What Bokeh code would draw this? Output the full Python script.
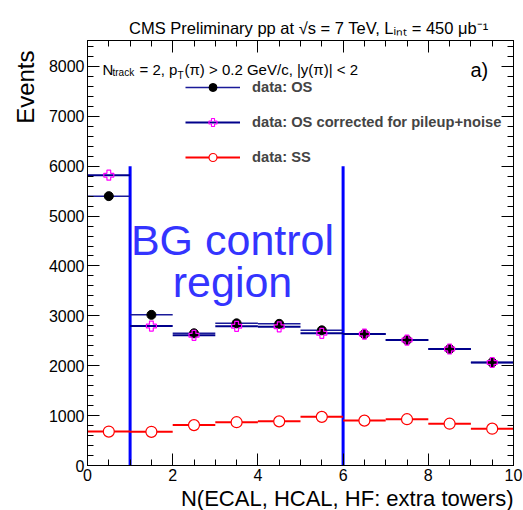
import numpy as np
from bokeh.plotting import figure
from bokeh.models import (Range1d, LinearAxis, SingleIntervalTicker, Label, Legend, LegendItem,
                          ColumnDataSource, Title)
from bokeh.embed import file_html
from bokeh.resources import INLINE

# ---- data ----
bin_lo = [0, 1, 2, 3, 4, 5, 6, 7, 8, 9]
bin_hi = [1, 2, 3, 4, 5, 6, 7, 8, 9, 10]
bin_center = [0.5, 1.5, 2.5, 3.5, 4.5, 5.5, 6.5, 7.5, 8.5, 9.5]
os_counts = [5400, 3020, 2650, 2850, 2840, 2710, 2635, 2515, 2335, 2065]
os_corr_counts = [5820, 2795, 2610, 2790, 2780, 2650, 2635, 2515, 2335, 2065]
ss_counts = [680, 675, 810, 868, 885, 975, 900, 928, 838, 738]
bg_region_edges = [1, 6]
bg_line_top = 6000

FONT = "Liberation Sans"
W, H = 523, 510
FL, FR, FT, FB = 87, 513, 40, 466
XMAX, YMAX = 10.0, 8520.0

p = figure(width=W, height=H, output_backend="svg", toolbar_location=None,
           x_range=Range1d(0, XMAX), y_range=Range1d(0, YMAX),
           min_border_left=FL, min_border_right=W - FR, min_border_top=FT,
           min_border_bottom=H - FB, x_axis_location=None, y_axis_location=None)
p.grid.visible = False
p.outline_line_color = "black"
p.outline_line_width = 1
p.background_fill_color = "white"
p.border_fill_color = "white"

def px2x(px):
    return (px - FL) / (FR - FL) * XMAX

def py2y(py):
    return (FB - py) / (FB - FT) * YMAX

def mk_axis(kind, side, labels):
    if kind == "x":
        ax = LinearAxis(ticker=SingleIntervalTicker(interval=2, num_minor_ticks=4))
    else:
        ax = LinearAxis(ticker=SingleIntervalTicker(interval=1000, num_minor_ticks=5))
    ax.major_tick_in = 12
    ax.major_tick_out = 0
    ax.minor_tick_in = 6
    ax.minor_tick_out = 0
    ax.axis_line_color = "black"
    ax.major_tick_line_color = "black"
    ax.minor_tick_line_color = "black"
    ax.major_label_text_font = FONT
    ax.major_label_text_font_size = "16px"
    ax.major_label_text_color = "black"
    ax.major_label_standoff = 3
    if not labels:
        ax.major_label_text_alpha = 0
        ax.major_label_text_font_size = "1px"
        ax.major_label_standoff = 0
    p.add_layout(ax, side)
    return ax

top_title = Title(text="CMS Preliminary pp at \u221as = 7 TeV, L\u1d62\u2099\u209c = 450 \u03bcb\u207b\u00b9",
                  align="right", offset=25, standoff=8, text_font=FONT, text_font_size="16.5px",
                  text_font_style="normal", text_color="black")
x_title = Title(text="N(ECAL, HCAL, HF: extra towers)", align="right", offset=0, standoff=0,
                text_font=FONT, text_font_size="22px", text_font_style="normal", text_color="black")
y_title = Title(text="Events", align="right", offset=10, standoff=14,
                text_font=FONT, text_font_size="24px", text_font_style="normal", text_color="black")

mk_axis("x", "below", True)
mk_axis("x", "above", False)
mk_axis("y", "left", True)
mk_axis("y", "right", False)
p.add_layout(top_title, "above")
p.add_layout(x_title, "below")
p.add_layout(y_title, "left")

# ---- BG region lines ----
p.segment(x0=bg_region_edges, y0=[0, 0], x1=bg_region_edges, y1=[bg_line_top] * 2,
          line_color="#0000ff", line_width=3)

# ---- histograms ----
src = ColumnDataSource(dict(lo=bin_lo, hi=bin_hi, c=bin_center, os=os_counts,
                            osc=os_corr_counts, ss=ss_counts))
r_os_l = p.segment(x0="lo", y0="os", x1="hi", y1="os", source=src, line_color="#1a1a99", line_width=1.5)
r_osc_l = p.segment(x0="lo", y0="osc", x1="hi", y1="osc", source=src, line_color="#00008b", line_width=2)
r_ss_l = p.segment(x0="lo", y0="ss", x1="hi", y1="ss", source=src, line_color="#ff0000", line_width=2)
r_os_m = p.scatter(x="c", y="os", source=src, marker="circle", size=9, fill_color="black", line_color="black")
r_osc_m = p.scatter(x="c", y="osc", source=src, marker="plus", size=10, fill_color="white",
                    fill_alpha=0, line_color="#ff00ff", line_width=1.2)
r_ss_m = p.scatter(x="c", y="ss", source=src, marker="circle", size=11, fill_color="white",
                   line_color="#ff0000", line_width=1.2)

legend = Legend(items=[
    LegendItem(label="data: OS", renderers=[r_os_l, r_os_m]),
    LegendItem(label="data: OS corrected for pileup+noise", renderers=[r_osc_l, r_osc_m]),
    LegendItem(label="data: SS", renderers=[r_ss_l, r_ss_m]),
], location=(98, 298), glyph_width=55, glyph_height=20, label_standoff=12, spacing=15,
   padding=0, margin=0, border_line_alpha=0, background_fill_alpha=0,
   label_text_font=FONT, label_text_font_style="bold", label_text_font_size="14.7px",
   label_height=20)
p.add_layout(legend)

def lab(text, px, py, size, color="black", align="left", baseline="alphabetic", angle=0, style="normal"):
    p.add_layout(Label(x=px2x(px), y=py2y(py), text=text, text_font=FONT, text_font_size=size,
                       text_color=color, text_align=align, text_baseline=baseline, angle=angle,
                       text_font_style=style))

# BG control region text
lab("BG control", 232, 240, "43px", color="#3434ff", align="center")
lab("region", 232, 282, "43px", color="#3434ff", align="center")

# selection text
lab("N", 102, 69, "15px")
lab("track", 112, 72, "10px")
lab("= 2, p", 139, 69, "15px")
lab("T", 177, 75, "10px")
lab("(\u03c0) > 0.2 GeV/c, |y(\u03c0)| < 2", 184, 69, "15px")

lab("a)", 470, 70, "20px")

open("out.html", "w").write(file_html(p, INLINE))
